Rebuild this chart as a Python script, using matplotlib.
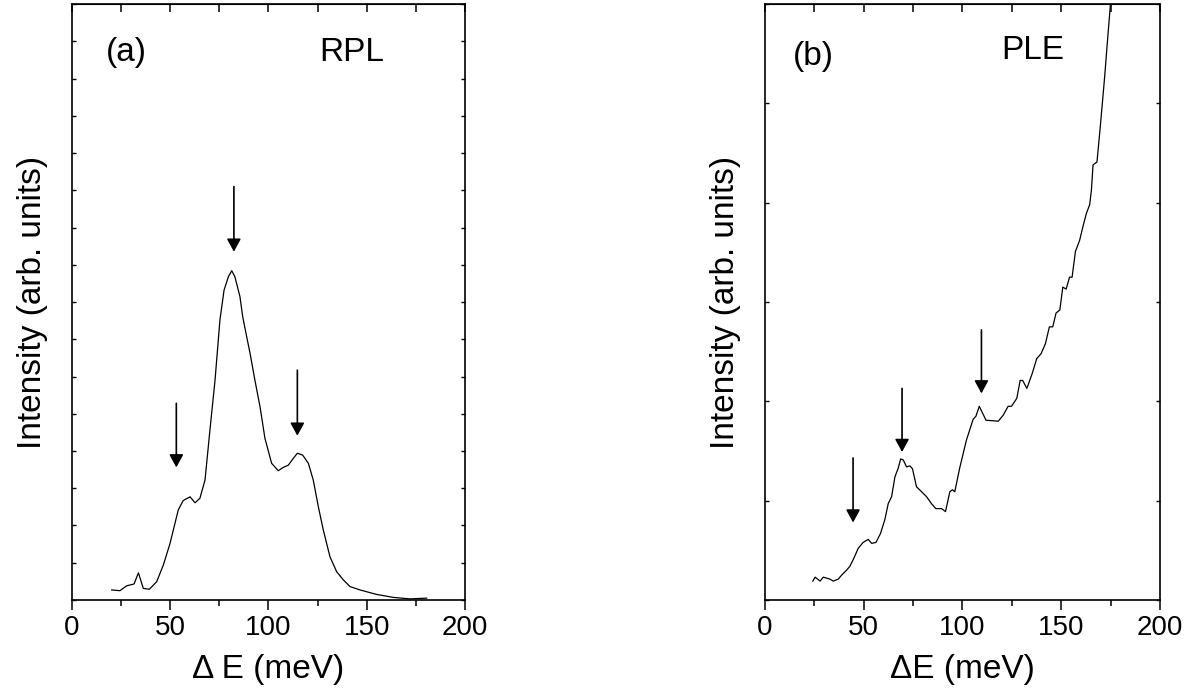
import numpy as np
import matplotlib
matplotlib.use('Agg')
import matplotlib.pyplot as plt

plt.rcParams['font.family'] = ['Liberation Sans', 'DejaVu Sans']

# (a) RPL spectrum
rpl_x = [20.2, 24.4, 27.8, 31.6, 33.8, 36.3, 39.4, 43.1, 46.5, 49.9, 54.1, 56.6, 60.1, 62.6,
         65.1, 67.7, 70.2, 72.8, 75.3, 77.4, 79.6, 81.3, 82.9, 85.5, 86.9, 88.9, 90.6, 93.1,
         95.7, 98.2, 101.6, 105.0, 107.5, 110.1, 112.6, 114.7, 117.4, 120.3, 122.8, 125.4,
         127.9, 131.3, 134.7, 138.1, 141.5, 146.6, 155.0, 163.5, 172.0, 180.5]
rpl_y = [0.27, 0.25, 0.38, 0.43, 0.73, 0.31, 0.29, 0.49, 0.94, 1.52, 2.42, 2.67, 2.77, 2.61,
         2.73, 3.22, 4.56, 5.90, 7.52, 8.32, 8.68, 8.84, 8.68, 8.14, 7.60, 7.07, 6.63, 5.90,
         5.19, 4.34, 3.67, 3.47, 3.56, 3.62, 3.80, 3.94, 3.89, 3.67, 3.22, 2.50,
         1.88, 1.16, 0.76, 0.54, 0.36, 0.27, 0.15, 0.07, 0.03, 0.05]

# (b) PLE spectrum
ple_x = [24.2, 25.4, 27.9, 29.5, 32.9, 34.6, 37.1, 38.8, 41.3, 43.0, 45.0, 47.2, 49.7, 52.3,
         54.0, 56.2, 58.5, 60.7, 62.4, 64.1, 65.8, 67.5, 68.7, 70.0, 71.7, 73.4, 74.7, 76.7,
         79.3, 81.8, 84.3, 86.5, 89.4, 91.4, 93.6, 94.9, 96.1, 98.6, 102.0, 105.4, 106.8,
         108.5, 111.9, 118.1, 120.6, 123.1, 124.8, 127.5, 129.2, 130.5, 132.6, 135.3, 137.6,
         139.8, 142.0, 144.0, 145.7, 147.4, 149.3, 150.8, 152.5, 154.2, 155.5, 157.2, 159.3,
         161.0, 162.7, 164.4, 165.3, 166.1, 168.1, 169.8, 172.0, 173.7, 174.9, 176.5]
ple_y = [0.19, 0.23, 0.19, 0.23, 0.21, 0.19, 0.21, 0.25, 0.30, 0.34, 0.42, 0.52, 0.58, 0.61,
         0.57, 0.58, 0.67, 0.81, 0.97, 1.04, 1.24, 1.33, 1.42, 1.41, 1.34, 1.35, 1.32, 1.14,
         1.09, 1.04, 0.97, 0.92, 0.92, 0.89, 1.09, 1.11, 1.09, 1.33, 1.61, 1.82, 1.85,
         1.95, 1.81, 1.80, 1.86, 1.95, 1.95, 2.03, 2.21, 2.21, 2.13, 2.28, 2.43,
         2.48, 2.58, 2.75, 2.75, 2.89, 2.92, 3.15, 3.13, 3.25, 3.25, 3.51, 3.62,
         3.76, 3.89, 3.98, 4.13, 4.38, 4.41, 4.77, 5.27, 5.70, 5.99, 6.40]

# arrows: x, top of shaft, tip
rpl_arrows = [(53.1, 5.28, 3.56), (82.4, 11.10, 9.35), (114.7, 6.17, 4.41)]
ple_arrows = [(44.6, 1.43, 0.78), (69.4, 2.13, 1.49), (109.6, 2.72, 2.08)]

fig = plt.figure(figsize=(11.94, 6.95), dpi=100)
ax1 = fig.add_axes([0.0603, 0.1367, 0.3291, 0.8575])
ax2 = fig.add_axes([0.6407, 0.1367, 0.3308, 0.8575])


def style(ax, ymax, label, tag, name, name_pos, tag_pos):
    ax.set_xlim(0, 200)
    ax.set_ylim(0, ymax)
    ax.set_xticks([0, 50, 100, 150, 200])
    ax.set_xticks([25, 75, 125, 175], minor=True)
    ax.set_yticks(np.arange(0, ymax + 1))
    ax.set_yticklabels([])
    ax.tick_params(axis='x', which='major', direction='out', length=7, width=1.1,
                   labelsize=20, pad=4)
    ax.tick_params(axis='x', which='minor', direction='out', length=4, width=1.1)
    ax.tick_params(axis='y', which='major', direction='in', length=3, width=1.0,
                   left=True, right=True)
    for s in ax.spines.values():
        s.set_linewidth(1.2)
    top = ax.secondary_xaxis('top')
    top.set_xticks([0, 50, 100, 150, 200])
    top.set_xticks([25, 75, 125, 175], minor=True)
    top.tick_params(which='both', direction='in', length=6, width=1.1, labeltop=False)
    ax.set_xlabel(label, fontsize=24, labelpad=9)
    ax.set_ylabel('Intensity (arb. units)', fontsize=24, labelpad=14)
    ax.text(tag_pos[0], tag_pos[1], tag, transform=ax.transAxes, fontsize=24,
            ha='center', va='center')
    ax.text(name_pos[0], name_pos[1], name, transform=ax.transAxes, fontsize=24,
            ha='center', va='center')


ax1.plot(rpl_x, rpl_y, color='black', lw=0.9)
for x, y0, y1 in rpl_arrows:
    ax1.annotate('', xy=(x, y1), xytext=(x, y0),
                 arrowprops=dict(arrowstyle='-|>,head_length=0.55,head_width=0.3',
                                 color='black', lw=1.2, mutation_scale=14,
                                 shrinkA=0, shrinkB=0))
style(ax1, 16, '\u0394 E (meV)', '(a)', 'RPL', (0.712, 0.918), (0.138, 0.918))

ax2.plot(ple_x, ple_y, color='black', lw=0.9)
for x, y0, y1 in ple_arrows:
    ax2.annotate('', xy=(x, y1), xytext=(x, y0),
                 arrowprops=dict(arrowstyle='-|>,head_length=0.55,head_width=0.3',
                                 color='black', lw=1.2, mutation_scale=14,
                                 shrinkA=0, shrinkB=0))
style(ax2, 6, '\u0394E (meV)', '(b)', 'PLE', (0.678, 0.922), (0.122, 0.912))

fig.savefig('out.png', dpi=100)
